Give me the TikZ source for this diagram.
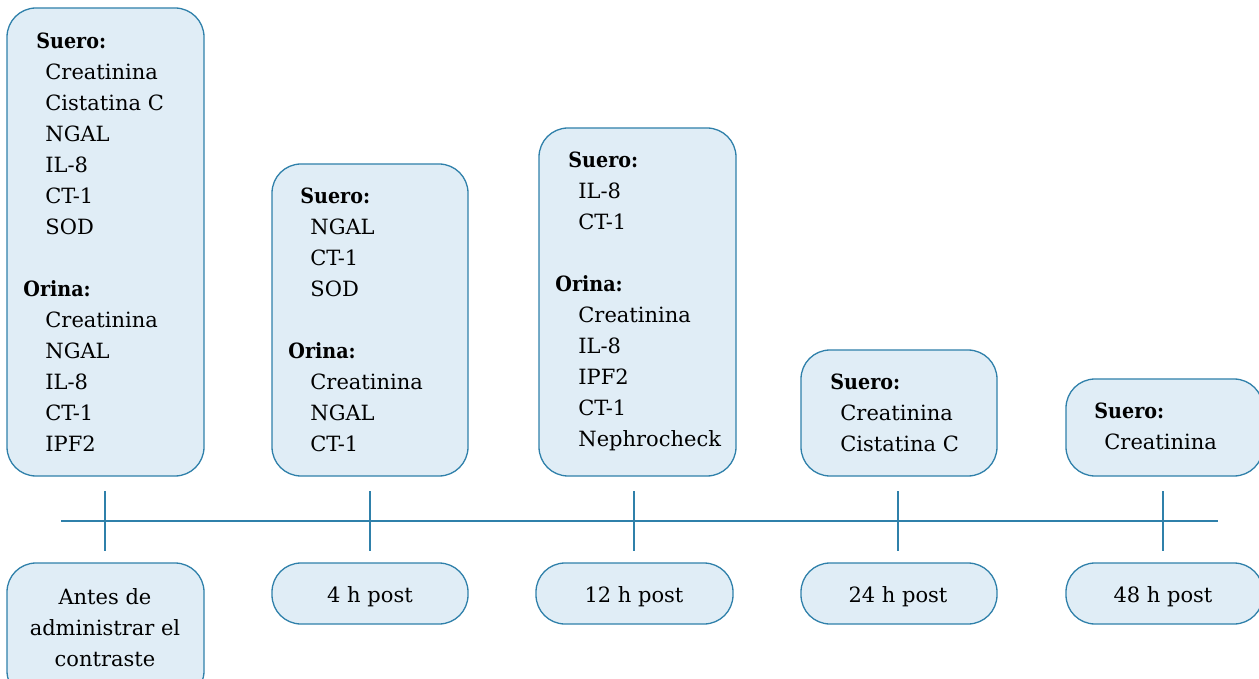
\documentclass[tikz,border=0pt]{standalone}
\usepackage{fontspec}
\setmainfont{DejaVu Serif}
\newfontfamily\hdfont{DejaVu Serif}[FakeStretch=0.91]
\usetikzlibrary{fit}
\definecolor{boxfill}{RGB}{224,237,246}
\definecolor{boxline}{RGB}{47,128,170}
\tikzset{
  box/.style={draw=boxline, fill=boxfill, line width=0.65pt, rounded corners=14.5pt, inner sep=0pt},
  txt/.style={anchor=north west, inner sep=0pt, align=left, font=\fontsize{10.5}{15.5}\selectfont},
  lbl/.style={anchor=center, inner sep=0pt, align=center, font=\fontsize{10.5}{15.5}\selectfont},
  tl/.style={draw=boxline, line width=0.75pt}
}
\newcommand\hd[1]{{\hdfont\bfseries #1}}
\begin{document}
\begin{tikzpicture}[x=0.5pt,y=-0.5pt]
\useasboundingbox (0,0) rectangle (1259,679);
% top boxes
\node[box, fit={(7,8)(204,476)}] (b1) {};
\node[box, fit={(272,164)(468,476)}] (b2) {};
\node[box, fit={(539,128)(736,476)}] (b3) {};
\node[box, fit={(801,350)(997,476)}] (b4) {};
\node[box, fit={(1066,379)(1263,476)}] (b5) {};
% bottom boxes
\node[box, fit={(7,563)(204,700)}] (c1) {};
\node[box, fit={(272,563)(468,624)}] (c2) {};
\node[box, fit={(536,563)(733,624)}] (c3) {};
\node[box, fit={(801,563)(997,624)}] (c4) {};
\node[box, fit={(1066,563)(1263,624)}] (c5) {};
% texts
\node[txt] (t1) at (23,33) {\hspace*{6.5pt}\hd{Suero:}\\
\hspace*{11pt}Creatinina\\\hspace*{11pt}Cistatina C\\\hspace*{11pt}NGAL\\\hspace*{11pt}IL-8\\\hspace*{11pt}CT-1\\\hspace*{11pt}SOD\\[15.5pt]
\hd{Orina:}\\\hspace*{11pt}Creatinina\\\hspace*{11pt}NGAL\\\hspace*{11pt}IL-8\\\hspace*{11pt}CT-1\\\hspace*{11pt}IPF2};
\node[txt] (t2) at (288,188) {\hspace*{6pt}\hd{Suero:}\\
\hspace*{11pt}NGAL\\\hspace*{11pt}CT-1\\\hspace*{11pt}SOD\\[15.5pt]
\hd{Orina:}\\\hspace*{11pt}Creatinina\\\hspace*{11pt}NGAL\\\hspace*{11pt}CT-1};
\node[txt] (t3) at (555,152) {\hspace*{6.5pt}\hd{Suero:}\\
\hspace*{11.5pt}IL-8\\\hspace*{11.5pt}CT-1\\[15.5pt]
\hd{Orina:}\\\hspace*{11.5pt}Creatinina\\\hspace*{11.5pt}IL-8\\\hspace*{11.5pt}IPF2\\\hspace*{11.5pt}CT-1\\\hspace*{11.5pt}Nephrocheck};
\node[txt] (t4) at (830,374) {\hd{Suero:}\\\hspace*{5pt}Creatinina\\\hspace*{5pt}Cistatina C};
\node[txt] (t5) at (1094,403) {\hd{Suero:}\\\hspace*{5pt}Creatinina};
% bottom labels
\node[lbl] (l1) at (105,628) {Antes de\\administrar el\\contraste};
\node[lbl] (l2) at (370,597) {4 h post};
\node[lbl] (l3) at (634,597) {12 h post};
\node[lbl] (l4) at (898,597) {24 h post};
\node[lbl] (l5) at (1163,597) {48 h post};
% timeline
\coordinate (ls) at (61,521);
\coordinate (le) at (1218,521);
\draw[tl] (ls) -- (le);
\foreach \x/\n in {105/1,370/2,634/3,898/4,1163/5}{
  \coordinate (k\n a) at (\x,491);
  \coordinate (k\n b) at (\x,551);
  \draw[tl] (k\n a) -- (k\n b);
}
\end{tikzpicture}
\end{document}
